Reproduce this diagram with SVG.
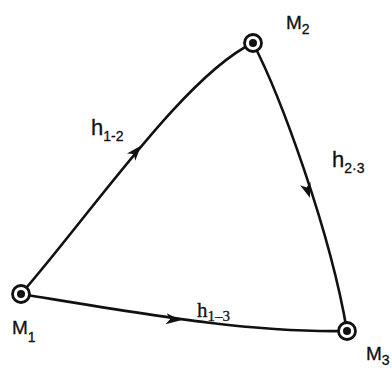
<svg xmlns="http://www.w3.org/2000/svg" xmlns:xlink="http://www.w3.org/1999/xlink" width="392" height="368" viewBox="0 0 392 368">
<style>
.edge{fill:none;stroke:#111;stroke-width:2.6;stroke-linecap:round}
.ring{fill:#fff;stroke:#111;stroke-width:2.8}
.dot{fill:#111}
.lab{font-family:"Liberation Sans",Arial,sans-serif;fill:#111;stroke:#111;stroke-width:0.3}
.ser{font-family:"Liberation Serif","Times New Roman",serif;fill:#111;stroke:#111;stroke-width:0.3}
</style>
<defs>
<polygon id="arr" points="3,0 -12,-5.5 -8,0 -12,5.5" fill="#111"/>
</defs>
<rect width="392" height="368" fill="#fff"/>
<g id="connectors">
<path class="edge" d="M21,294 C90,215 185,75 253,43"/>
<path class="edge" d="M253,43 C280,95 330,230 347,331"/>
<path class="edge" d="M21,294 C150,315 250,333 347,331"/>
<use xlink:href="#arr" transform="translate(139,148) rotate(-49)"/>
<use xlink:href="#arr" transform="translate(309,195) rotate(72)"/>
<use xlink:href="#arr" transform="translate(178,320) rotate(6)"/>
</g>
<g id="M1">
<circle class="ring" cx="21" cy="294" r="8.5"/>
<circle class="dot" cx="21" cy="294" r="4"/>
<text class="lab" x="12" y="334" font-size="19">M<tspan font-size="14" dy="8">1</tspan></text>
</g>
<g id="M2">
<circle class="ring" cx="253" cy="43" r="8.5"/>
<circle class="dot" cx="253" cy="43" r="4"/>
<text class="lab" x="286" y="29" font-size="19">M<tspan font-size="14" dy="5">2</tspan></text>
</g>
<g id="M3">
<circle class="ring" cx="347" cy="331" r="8.5"/>
<circle class="dot" cx="347" cy="331" r="4"/>
<text class="lab" x="366" y="360" font-size="19">M<tspan font-size="14" dy="5">3</tspan></text>
</g>
<g id="labels">
<text class="lab" x="91" y="135" font-size="22">h<tspan font-size="14" dy="6">1-2</tspan></text>
<text class="lab" x="332" y="167" font-size="22">h<tspan font-size="14" dy="6">2·3</tspan></text>
<text class="ser" x="197" y="317" font-size="21">h<tspan font-size="15" dy="4">1–3</tspan></text>
</g>
</svg>
